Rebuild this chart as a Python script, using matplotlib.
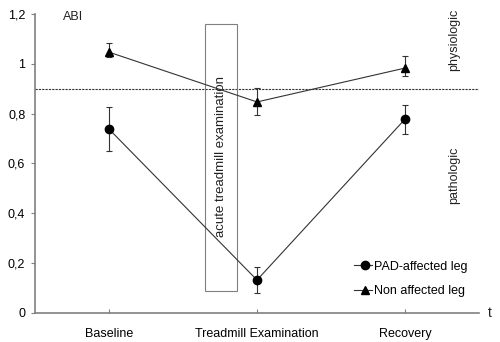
import matplotlib
matplotlib.use("Agg")
import matplotlib.pyplot as plt
from matplotlib.patches import Rectangle
from matplotlib.lines import Line2D
from matplotlib.legend_handler import HandlerBase

plt.rcParams["font.family"] = ["Liberation Sans", "DejaVu Sans"]

# data
stages = ["Baseline", "Treadmill Examination", "Recovery"]
pad_mean = [0.738, 0.132, 0.778]
pad_lo = [0.65, 0.08, 0.72]
pad_hi = [0.827, 0.185, 0.835]
non_mean = [1.047, 0.847, 0.983]
non_lo = [1.027, 0.795, 0.95]
non_hi = [1.083, 0.903, 1.03]
threshold = 0.9
y_ticks = [0, 0.2, 0.4, 0.6, 0.8, 1.0, 1.2]
y_labels = ["0", "0,2", "0,4", "0,6", "0,8", "1", "1,2"]

xs = [i + 0.5 for i in range(len(stages))]


class MarkerRight(HandlerBase):
    # short line with the marker sitting near its right end
    def create_artists(self, legend, orig_handle, xdescent, ydescent,
                       width, height, fontsize, trans):
        y = height / 2 - ydescent
        x0, x1 = -xdescent, width - xdescent
        line = Line2D([x0, x1], [y, y], color=orig_handle.get_color(),
                      lw=orig_handle.get_linewidth(), transform=trans)
        mark = Line2D([x0 + 0.62 * (x1 - x0)], [y], ls="none",
                      marker=orig_handle.get_marker(),
                      ms=orig_handle.get_markersize(),
                      mfc="black", mec="black", transform=trans)
        return [line, mark]


fig = plt.figure(figsize=(5, 3.42), dpi=100)
ax = fig.add_axes([0.07, 0.085, 0.888, 0.874])

gray = "#808080"
ax.axhline(threshold, color="#333333", ls=(0, (2, 1)), lw=0.8, zorder=1)

ax.add_patch(Rectangle((1.149, 0.088), 0.216, 1.072, fill=False,
                       edgecolor=gray, lw=0.8, zorder=2))
ax.text(1.257, 0.63, "acute treadmill examination", rotation=90,
        ha="center", va="center", fontsize=9.5, color="#222222")

def err(mean, lo, hi):
    return [[m - l for m, l in zip(mean, lo)], [h - m for m, h in zip(mean, hi)]]

ax.errorbar(xs, pad_mean, yerr=err(pad_mean, pad_lo, pad_hi), color="#333333",
            marker="o", ms=6, mfc="black", mec="black", lw=0.8, elinewidth=0.8,
            capsize=2.5, capthick=0.8, zorder=3)
ax.errorbar(xs, non_mean, yerr=err(non_mean, non_lo, non_hi), color="#333333",
            marker="^", ms=6, mfc="black", mec="black", lw=0.8, elinewidth=0.8,
            capsize=2.5, capthick=0.8, zorder=3)

ax.set_xlim(0, 3)
ax.set_ylim(0, 1.2)
ax.set_xticks(xs)
ax.set_xticklabels(stages, fontsize=9)
ax.set_yticks(y_ticks)
ax.set_yticklabels(y_labels, fontsize=9)
ax.tick_params(axis="x", direction="in", length=3, color=gray, pad=11)
ax.tick_params(axis="y", direction="out", length=3, color=gray, pad=4)
for s in ["top", "right"]:
    ax.spines[s].set_visible(False)
for s in ["left", "bottom"]:
    ax.spines[s].set_color(gray)
    ax.spines[s].set_linewidth(1.2)

ax.text(0.19, 1.19, "ABI", fontsize=9, ha="left", va="center", color="#222222")
ax.text(1.02, 0.0, "t", transform=ax.transAxes, fontsize=10, ha="left",
        va="center", color="#222222")
ax.text(2.83, 1.095, "physiologic", rotation=90, fontsize=9, ha="center",
        va="center", color="#222222")
ax.text(2.83, 0.553, "pathologic", rotation=90, fontsize=9, ha="center",
        va="center", color="#222222")

handles = [
    Line2D([], [], color="#333333", lw=0.8, marker="o", ms=6),
    Line2D([], [], color="#333333", lw=0.8, marker="^", ms=6),
]
ax.legend(handles, ["PAD-affected leg", "Non affected leg"], loc="lower right",
          bbox_to_anchor=(1.0, 0.015), frameon=False, fontsize=9,
          handlelength=1.5, handletextpad=0.15, labelspacing=1.0,
          handler_map={Line2D: MarkerRight()})

fig.savefig("out.png", dpi=100)
